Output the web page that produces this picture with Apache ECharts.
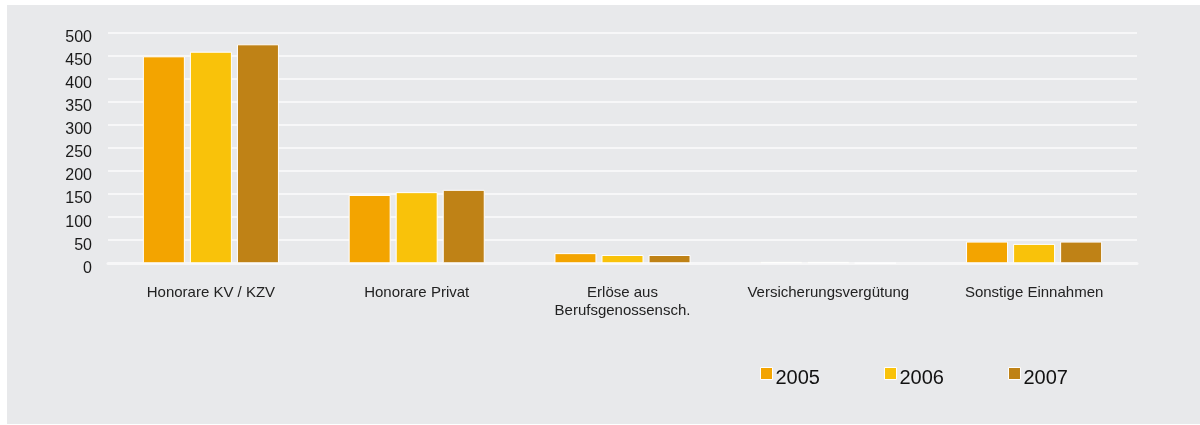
<!DOCTYPE html>
<html>
<head>
<meta charset="utf-8">
<script src="https://cdn.jsdelivr.net/npm/echarts@6/dist/echarts.min.js"></script>
<style>
  html, body { margin: 0; padding: 0; background: #fff; }
  #chart { position: absolute; left: 7px; top: 5px; width: 1193px; height: 419px; background: #e8e9eb; }
</style>
</head>
<body>
<div id="chart"></div>
<script>
// Kategorien und Werte
const categories = ['Honorare KV / KZV', 'Honorare Privat', 'Erlöse aus\nBerufsgenossensch.', 'Versicherungsvergütung', 'Sonstige Einnahmen']
const years = ['2005', '2006', '2007']
const values2005 = [448, 148, 22, 3, 47]
const values2006 = [458, 154, 18, 3, 42]
const values2007 = [474, 159, 18, 1, 47]
const yTicks = [0, 50, 100, 150, 200, 250, 300, 350, 400, 450, 500]

const colors = ['#f3a400', '#f9c20a', '#bf8216']
const font = '"Liberation Sans", Arial, sans-serif'

const chart = echarts.init(document.getElementById('chart'))

const mkSeries = (name, data, color) => ({
  name,
  type: 'bar',
  data,
  barWidth: 42,
  barGap: '12%',
  itemStyle: { color, borderColor: '#ffffff', borderWidth: 1 },
  emphasis: { disabled: true }
})

chart.setOption({
  animation: false,
  textStyle: { fontFamily: font },
  grid: { left: 101, right: 63, top: 27.3, bottom: 160.7, containLabel: false },
  legend: {
    data: years,
    left: 753,
    top: 362,
    padding: 0,
    itemWidth: 12,
    itemHeight: 12,
    itemGap: 64,
    icon: 'rect',
    itemStyle: { borderColor: '#ffffff', borderWidth: 1 },
    formatter: '{a|{name}}',
    textStyle: {
      fontFamily: font, fontSize: 20, color: '#111',
      rich: { a: { fontFamily: font, fontSize: 20, color: '#111', padding: [10, 0, 0, -2] } }
    }
  },
  xAxis: {
    type: 'category',
    data: categories,
    axisTick: { show: false },
    axisLine: { show: true, lineStyle: { color: '#f7f7f8', width: 3 } },
    axisLabel: {
      interval: 0,
      margin: 21,
      fontSize: 15,
      lineHeight: 18,
      color: '#222',
      fontFamily: font
    }
  },
  yAxis: {
    type: 'value',
    min: yTicks[0],
    max: yTicks[yTicks.length - 1],
    interval: 50,
    axisLine: { show: false },
    axisTick: { show: false },
    splitLine: { lineStyle: { color: '#f7f7f8', width: 2 } },
    axisLabel: { margin: 16, fontSize: 16, lineHeight: 10, color: '#1a1a1a', fontFamily: font, verticalAlign: 'top' }
  },
  series: [
    mkSeries(years[0], values2005, colors[0]),
    mkSeries(years[1], values2006, colors[1]),
    mkSeries(years[2], values2007, colors[2])
  ]
})
</script>
</body>
</html>
